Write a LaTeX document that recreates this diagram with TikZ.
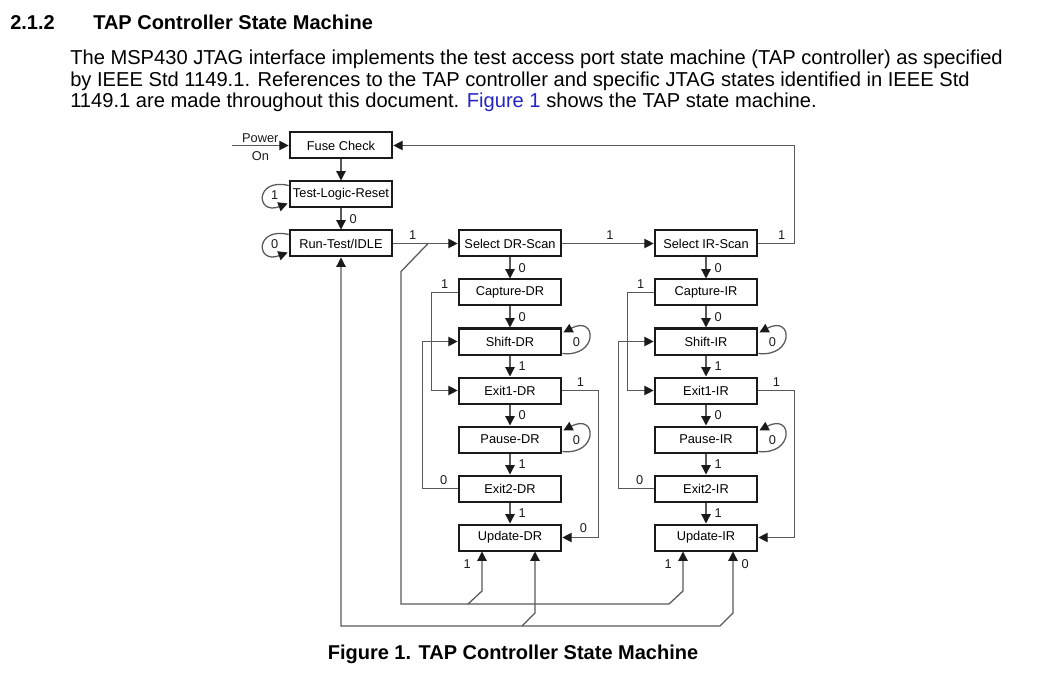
\documentclass[tikz,border=0pt]{standalone}
\usepackage{fontspec}
\setmainfont{Liberation Sans}
\usepackage{xcolor}
\usetikzlibrary{arrows.meta,positioning,calc}
\definecolor{tapline}{HTML}{595959}
\definecolor{tapdark}{HTML}{1A1A1A}
\definecolor{taplink}{HTML}{2323C8}
\tikzset{
  state/.style={draw=tapdark,line width=1.5pt,minimum width=77pt,minimum height=19.5pt,inner sep=1pt,font=\fontsize{9.6}{11}\selectfont},
  ln/.style={draw=tapline,line width=0.95pt},
  ar/.style={ln,-{Triangle[length=7pt,width=7pt,color=tapdark]}},
  arr/.style={ln,{Triangle[length=7pt,width=7pt,color=tapdark]}-{Triangle[length=7pt,width=7pt,color=tapdark]}},
  lbl/.style={font=\fontsize{9.6}{11}\selectfont,inner sep=1pt,text=tapdark},
  bodytxt/.style={anchor=base west,inner sep=0pt,font=\fontsize{15.1}{18}\selectfont},
  head/.style={anchor=base west,inner sep=0pt,font=\fontsize{15}{18}\selectfont\bfseries},
}
\begin{document}
\begin{tikzpicture}[x=0.75pt,y=-0.75pt]
  \useasboundingbox (0,0) rectangle (1053,684);
  % heading and text
  \node[head] (secnum) at (10,29.5) {2.1.2};
  \node[head] (sectitle) at (93,29.5) {TAP Controller State Machine};
  \node[bodytxt] (par1) at (70,65) {The MSP430 JTAG interface implements the test access port state machine (TAP controller) as specified};
  \node[bodytxt] (par2) at (70,86.5) {by IEEE Std 1149.1. References to the TAP controller and specific JTAG states identified in IEEE Std};
  \node[bodytxt] (par3) at (70,108) {1149.1 are made throughout this document. \textcolor{taplink}{Figure 1} shows the TAP state machine.};
  \node[head,anchor=base] (caption) at (513,659) {Figure 1. TAP Controller State Machine};

  % left column
  \node[state] (fuse) at (341,145.5) {Fuse Check};
  \node[state] (tlr) at (341,194.5) {Test-Logic-Reset};
  \node[state] (rti) at (341,243.5) {Run-Test/IDLE};
  \coordinate (pwr) at (232,145.5);
  \draw[ar] (pwr) -- node[lbl,above=1pt] (pwrtxt) {Power} node[lbl,below=3pt] (ontxt) {On} (fuse.west);
  \draw[ar] (fuse) -- (tlr);
  \draw[ar] (tlr) -- node[lbl,right=5pt] (ttlr) {0} (rti);
  \draw[ar] ($(tlr.north west)+(0,5)$) .. controls +(-34,-8) and +(-32,12) .. ($(tlr.south west)+(-1,-5)$);
  \node[lbl] (tlr1) at ($(tlr.west)+(-14,1)$) {1};
  \draw[ar] ($(rti.north west)+(0,5)$) .. controls +(-34,-8) and +(-32,12) .. ($(rti.south west)+(-1,-5)$);
  \node[lbl] (rti0) at ($(rti.west)+(-14,1)$) {0};

  % DR and IR columns
  \foreach \c/\x in {DR/510,IR/706} {
    \node[state] (sel\c) at (\x,243.5) {Select \c-Scan};
    \node[state] (cap\c) at (\x,292.5) {Capture-\c};
    \node[state] (shf\c) at (\x,341.5) {Shift-\c};
    \node[state] (exa\c) at (\x,390.5) {Exit1-\c};
    \node[state] (pau\c) at (\x,439.5) {Pause-\c};
    \node[state] (exb\c) at (\x,488.5) {Exit2-\c};
    \node[state] (upd\c) at (\x,537.5) {Update-\c};
    \draw[ar] (sel\c) -- node[lbl,right=5pt] (ta\c) {0} (cap\c);
    \draw[ar] (cap\c) -- node[lbl,right=5pt] (tb\c) {0} (shf\c);
    \draw[ar] (shf\c) -- node[lbl,right=5pt] (tc\c) {1} (exa\c);
    \draw[ar] (exa\c) -- node[lbl,right=5pt] (td\c) {0} (pau\c);
    \draw[ar] (pau\c) -- node[lbl,right=5pt] (te\c) {1} (exb\c);
    \draw[ar] (exb\c) -- node[lbl,right=5pt] (tf\c) {1} (upd\c);
    \draw[ar] (cap\c.west) -- node[lbl,above=1.5pt] (tg\c) {1} ++(-26,0) |- (exa\c.west);
    \draw[ar] (exb\c.west) -- node[lbl,above=1.5pt,pos=0.4] (th\c) {0} ++(-35,0) |- (shf\c.west);
    \draw[ar] (exa\c.east) -- node[lbl,above=1.5pt] (ti\c) {1} ++(36,0) |- (upd\c.east);
    \draw[ar] ($(shf\c.south east)+(0,-2)$) .. controls +(36,4) and +(34,-18) .. ($(shf\c.north east)+(1,5)$);
    \node[lbl] (ls\c) at ($(shf\c.east)+(14,1)$) {0};
    \draw[ar] ($(pau\c.south east)+(0,-2)$) .. controls +(36,4) and +(34,-18) .. ($(pau\c.north east)+(1,5)$);
    \node[lbl] (lp\c) at ($(pau\c.east)+(14,1)$) {0};
  }
  \node[lbl] (upd0) at ($(updDR.east)+(21,-9)$) {0};

  % scan selection
  \draw[ar] (rti) -- node[lbl,above=1.5pt,pos=0.3] (trti) {1} (selDR);
  \draw[ar] (selDR) -- node[lbl,above=1.5pt,pos=0.52] (tsel) {1} (selIR);
  \draw[ar] (selIR.east) -- node[lbl,above=1.5pt,pos=0.65] (tir) {1} ++(36,0) |- (fuse.east);

  % return paths from the update states
  \coordinate (jsel) at ($(rti.east)!0.54!(selDR.west)$);
  \draw[ar] (jsel) -- ++(-27,28) -- (401,604) -- (669,604) -- (683,591) -- node[lbl,left=7pt,pos=0.67] (tuir) {1} ($(updIR.south)+(-23,0)$);
  \draw[ar] (468,604) -- (482,591) -- node[lbl,left=7pt,pos=0.67] (tudr) {1} ($(updDR.south)+(-28,0)$);
  \draw[arr] (rti.south) -- (rti.south |- 0,626) -- (720,626) -- (733,613) -- node[lbl,right=5pt,pos=0.79] (tuir0) {0} ($(updIR.south)+(27,0)$);
  \draw[ar] (522,626) -- (535,613) -- ($(updDR.south)+(25,0)$);
\end{tikzpicture}
\end{document}
